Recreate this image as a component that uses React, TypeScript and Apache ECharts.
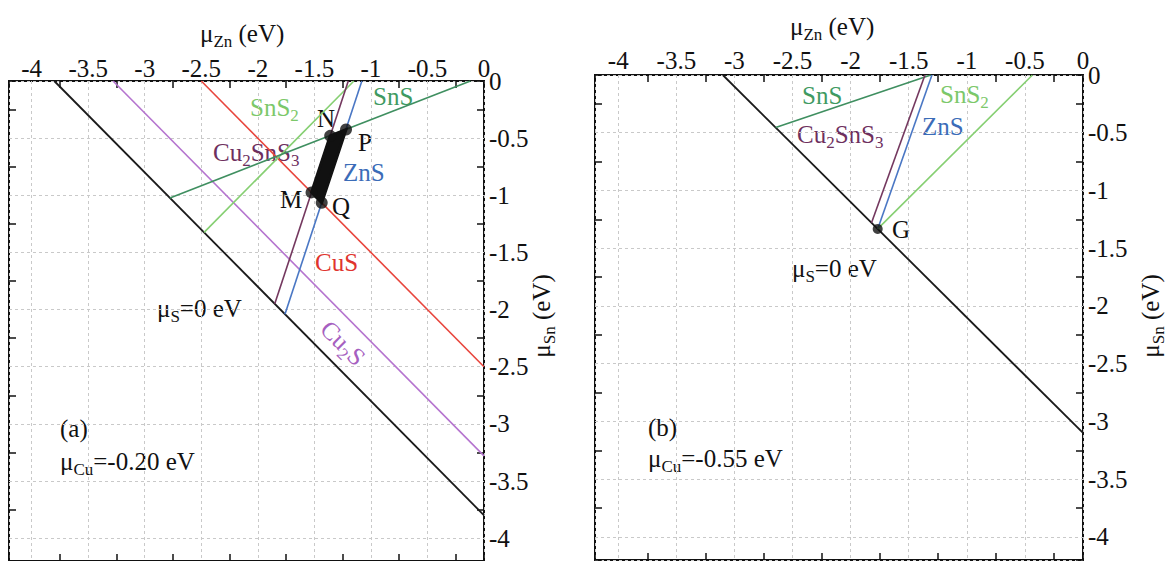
import React, { useEffect, useRef } from "react";
import * as echarts from "echarts";

// Shared axis range for μZn (x) and μSn (y), in eV
const AXIS_MIN = -4.2;
const AXIS_MAX = 0;
const tickLabelValues = [-4, -3.5, -3, -2.5, -2, -1.5, -1, -0.5, 0];

// Panel (a): μCu = -0.20 eV — phase boundary lines, [μZn, μSn] end points
const muS0A = [[-3.8, 0], [0, -3.8]];
const cu2sA = [[-3.28, 0], [0, -3.28]];
const cusA = [[-2.5, 0], [0, -2.5]];
const snsA = [[-0.12, 0], [-2.777, -1.023]];
const sns2A = [[-1.15, 0], [-2.475, -1.325]];
const znsA = [[-1.08, 0], [-1.76, -2.04]];
const cu2sns3A = [[-1.2, 0], [-1.85, -1.95]];
// Stable region corners N, P, Q, M
const regionA = [[-1.36, -0.48], [-1.22, -0.425], [-1.435, -1.065], [-1.525, -0.975]];

// Panel (b): μCu = -0.55 eV
const muS0B = [[-3.1, 0], [0, -3.1]];
const snsB = [[-1.31, 0], [-2.645, -0.455]];
const cu2sns3B = [[-1.36, 0], [-1.82, -1.28]];
const znsB = [[-1.3, 0], [-1.767, -1.333]];
const sns2B = [[-0.435, 0], [-1.767, -1.333]];
const pointG = [[-1.767, -1.333]];

const FONT = '"Liberation Serif", "Times New Roman", serif';
const COLORS = {
  muS: "#1a1a1a",
  cu2s: "#b574cf",
  cus: "#e8453c",
  sns: "#3f8f60",
  sns2: "#86cf72",
  zns: "#4a77c4",
  cu2sns3: "#74385f",
};
const LABEL_COLORS = {
  black: "#111111",
  sns: "#3f9a62",
  sns2: "#7cc86a",
  cu2sns3: "#6e2f5e",
  zns: "#3b6cb8",
  cus: "#e0342e",
  cu2s: "#a65fc0",
};

type Part = [string, boolean]; // [text, isSubscript]

let measureCtx: CanvasRenderingContext2D | null = null;
function measure(text: string, size: number): number {
  if (!measureCtx) measureCtx = document.createElement("canvas").getContext("2d");
  measureCtx!.font = `${size}px "Liberation Serif"`;
  return measureCtx!.measureText(text).width;
}

// Builds a run of text pieces with subscripts; origin at left (or centre) of the run, vertically centred
function runChildren(parts: Part[], size: number, color: string, centered: boolean) {
  const subSize = Math.round(size * 0.68);
  const widths = parts.map(([t, s]) => measure(t, s ? subSize : size));
  const total = widths.reduce((a, b) => a + b, 0);
  let x = centered ? -total / 2 : 0;
  return parts.map(([t, s], i) => {
    const el = {
      type: "text",
      x,
      y: s ? size * 0.32 : 0,
      silent: true,
      style: {
        text: t,
        fontSize: s ? subSize : size,
        fontFamily: FONT,
        fill: color,
        align: "left",
        verticalAlign: "middle",
        textAlign: "left",
        textVerticalAlign: "middle",
      },
    };
    x += widths[i];
    return el;
  });
}

function label(parts: Part[], x: number, y: number, color: string, size = 25, rotation = 0, centered = false) {
  return {
    type: "group",
    x,
    y,
    rotation,
    silent: true,
    children: runChildren(parts, size, color, centered || rotation !== 0),
  };
}

const tickFormatter = (v: number) =>
  tickLabelValues.some((t) => Math.abs(t - v) < 1e-6) ? String(Math.abs(v) < 1e-9 ? 0 : v) : "";

function axesFor(gridIndex: number, xLabelMargin: number) {
  const common = { gridIndex, type: "value", minInterval: 0.5, maxInterval: 0.5 };
  const labelStyle = { fontFamily: FONT, fontSize: 25, color: "#111", formatter: tickFormatter };
  const grid = { show: true, lineStyle: { color: "#c9c9c9", width: 1, type: [3, 3] } };
  const tickAxis = (position: string) => ({
    ...common,
    position,
    // shifted by a quarter step so the tick marks fall between the labelled values
    min: AXIS_MIN + 0.25,
    max: AXIS_MAX + 0.25,
    axisLine: { show: false, onZero: false },
    axisTick: { show: true, inside: true, length: 7, lineStyle: { color: "#111", width: 1.5 } },
    axisLabel: { show: false },
    splitLine: { show: false },
  });
  const x = [
    {
      ...common,
      position: "top",
      min: AXIS_MIN,
      max: AXIS_MAX,
      axisLine: { show: false, onZero: false },
      axisTick: { show: false },
      axisLabel: { ...labelStyle, margin: xLabelMargin },
      splitLine: grid,
    },
    tickAxis("top"),
    tickAxis("bottom"),
  ];
  const y = [
    {
      ...common,
      position: "right",
      min: AXIS_MIN,
      max: AXIS_MAX,
      axisLine: { show: false, onZero: false },
      axisTick: { show: false },
      axisLabel: { ...labelStyle, margin: 5 },
      splitLine: grid,
    },
    tickAxis("right"),
    tickAxis("left"),
  ];
  return { x, y };
}

function lineSeries(data: number[][], color: string, axisIndex: number, width = 1.6) {
  return {
    type: "line",
    data,
    xAxisIndex: axisIndex,
    yAxisIndex: axisIndex,
    showSymbol: false,
    silent: true,
    lineStyle: { color, width },
    z: 3,
  };
}

export default function App() {
  const ref = useRef<HTMLDivElement>(null);

  useEffect(() => {
    if (!ref.current) return;
    const chart = echarts.init(ref.current, undefined, { renderer: "svg" });
    const a = axesFor(0, 0);
    const b = axesFor(1, 2);

    const graphics = [
      // panel (a)
      label([["μ", false], ["Zn", true], [" (eV)", false]], 200, 33, LABEL_COLORS.black),
      label([["μ", false], ["Sn", true], [" (eV)", false]], 541, 316, LABEL_COLORS.black, 25, Math.PI / 2),
      label([["SnS", false], ["2", true]], 250, 107, LABEL_COLORS.sns2),
      label([["SnS", false]], 373, 96, LABEL_COLORS.sns),
      label([["N", false]], 317, 118, LABEL_COLORS.black),
      label([["P", false]], 358, 142, LABEL_COLORS.black),
      label([["Cu", false], ["2", true], ["SnS", false], ["3", true]], 213, 152, LABEL_COLORS.cu2sns3),
      label([["ZnS", false]], 343, 172, LABEL_COLORS.zns),
      label([["M", false]], 280, 199, LABEL_COLORS.black),
      label([["Q", false]], 332, 206, LABEL_COLORS.black),
      label([["CuS", false]], 315, 262, LABEL_COLORS.cus),
      label([["μ", false], ["S", true], ["=0 eV", false]], 157, 308, LABEL_COLORS.black),
      label([["Cu", false], ["2", true], ["S", false]], 343, 343, LABEL_COLORS.cu2s, 25, -Math.PI / 4),
      label([["(a)", false]], 60, 428, LABEL_COLORS.black),
      label([["μ", false], ["Cu", true], ["=-0.20 eV", false]], 60, 461, LABEL_COLORS.black),
      // panel (b)
      label([["μ", false], ["Zn", true], [" (eV)", false]], 790, 26, LABEL_COLORS.black),
      label([["μ", false], ["Sn", true], [" (eV)", false]], 1150, 316, LABEL_COLORS.black, 25, Math.PI / 2),
      label([["SnS", false]], 802, 95, LABEL_COLORS.sns),
      label([["SnS", false], ["2", true]], 940, 94, LABEL_COLORS.sns2),
      label([["Cu", false], ["2", true], ["SnS", false], ["3", true]], 797, 134, LABEL_COLORS.cu2sns3),
      label([["ZnS", false]], 922, 126, LABEL_COLORS.zns),
      label([["G", false]], 892, 229, LABEL_COLORS.black),
      label([["μ", false], ["S", true], ["=0 eV", false]], 792, 268, LABEL_COLORS.black),
      label([["(b)", false]], 648, 427, LABEL_COLORS.black),
      label([["μ", false], ["Cu", true], ["=-0.55 eV", false]], 648, 458, LABEL_COLORS.black),
    ];

    chart.setOption({
      animation: false,
      backgroundColor: "#ffffff",
      grid: [
        { left: 9, top: 81, width: 475, height: 482, show: true, borderColor: "#111", borderWidth: 2, backgroundColor: "transparent" },
        { left: 595, top: 75, width: 488, height: 485, show: true, borderColor: "#111", borderWidth: 2, backgroundColor: "transparent" },
      ],
      xAxis: [...a.x, ...b.x],
      yAxis: [...a.y, ...b.y],
      series: [
        // panel (a) uses main axes index 0
        lineSeries(muS0A, COLORS.muS, 0, 1.8),
        lineSeries(cu2sA, COLORS.cu2s, 0),
        lineSeries(cusA, COLORS.cus, 0),
        lineSeries(sns2A, COLORS.sns2, 0),
        lineSeries(snsA, COLORS.sns, 0),
        lineSeries(cu2sns3A, COLORS.cu2sns3, 0),
        lineSeries(znsA, COLORS.zns, 0),
        {
          type: "custom",
          xAxisIndex: 0,
          yAxisIndex: 0,
          data: [regionA[0]],
          silent: true,
          z: 5,
          renderItem: (_params: any, api: any) => ({
            type: "polygon",
            shape: { points: regionA.map((p) => api.coord(p)) },
            style: { fill: "#111", stroke: "#111", lineWidth: 3 },
          }),
        },
        {
          type: "scatter",
          xAxisIndex: 0,
          yAxisIndex: 0,
          data: regionA,
          symbolSize: 12,
          silent: true,
          itemStyle: { color: "#111" },
          z: 6,
        },
        // panel (b) uses main axes index 3
        lineSeries(muS0B, COLORS.muS, 3, 1.8),
        lineSeries(snsB, COLORS.sns, 3),
        lineSeries(cu2sns3B, COLORS.cu2sns3, 3),
        lineSeries(znsB, COLORS.zns, 3),
        lineSeries(sns2B, COLORS.sns2, 3),
        {
          type: "scatter",
          xAxisIndex: 3,
          yAxisIndex: 3,
          data: pointG,
          symbolSize: 10,
          silent: true,
          itemStyle: { color: "#111" },
          z: 6,
        },
      ],
      graphic: graphics,
    });

    return () => chart.dispose();
  }, []);

  return (
    <div
      ref={ref}
      style={{ position: "absolute", left: 0, top: 0, width: 1172, height: 561, background: "#fff" }}
    />
  );
}
